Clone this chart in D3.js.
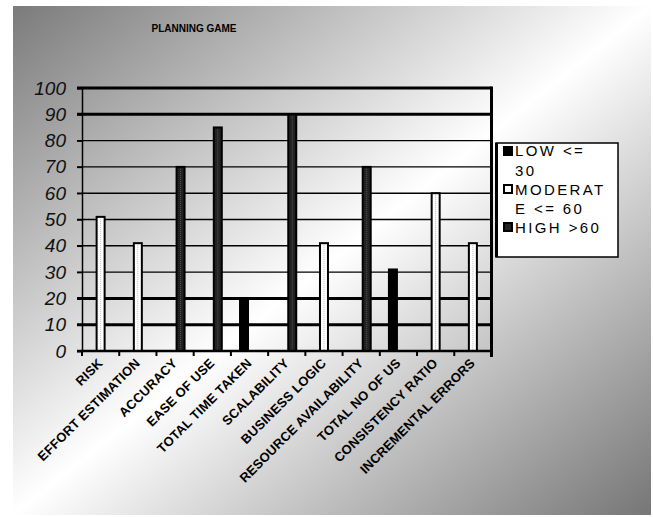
<!DOCTYPE html>
<html>
<head>
<meta charset="utf-8">
<script src="https://cdn.jsdelivr.net/npm/d3@7"></script>
<style>
  body { margin: 0; background: #fff; }
  svg { display: block; font-family: "Liberation Sans", Arial, sans-serif; }
</style>
</head>
<body>
<svg id="chart" width="653" height="517"></svg>
<script>
// chart data
const categories = [
  "RISK", "EFFORT ESTIMATION", "ACCURACY", "EASE OF USE", "TOTAL TIME TAKEN",
  "SCALABILITY", "BUSINESS LOGIC", "RESOURCE AVAILABILITY", "TOTAL NO OF US",
  "CONSISTENCY RATIO", "INCREMENTAL ERRORS"
];
const seriesNames = ["LOW", "MODERATE", "HIGH"];
const lowValues      = [0, 0, 0, 0, 20, 0, 0, 0, 31, 0, 0];
const moderateValues = [51, 41, 0, 0, 0, 0, 41, 0, 0, 60, 41];
const highValues     = [0, 0, 70, 85, 0, 90, 0, 70, 0, 0, 0];
const yTicks = [0, 10, 20, 30, 40, 50, 60, 70, 80, 90, 100];
const thickGrid = [10, 20, 90, 100];
const legendLines = [["LOW <=", "30"], ["MODERAT", "E <= 60"], ["HIGH >60"]];

const svg = d3.select("#chart");

// background panel with diagonal gradient
const defs = svg.append("defs");
const grad = defs.append("linearGradient")
  .attr("id", "bg").attr("x1", 0).attr("y1", 0).attr("x2", 1).attr("y2", 1);
grad.append("stop").attr("offset", "0%").attr("stop-color", "#7b7b7b");
grad.append("stop").attr("offset", "50%").attr("stop-color", "#ffffff");
grad.append("stop").attr("offset", "100%").attr("stop-color", "#767676");

svg.append("rect")
  .attr("x", 13).attr("y", 6).attr("width", 638).attr("height", 509)
  .attr("fill", "url(#bg)");

// title
svg.append("text")
  .attr("x", 194).attr("y", 32)
  .attr("text-anchor", "middle")
  .style("font-size", "10px").style("font-weight", "bold")
  .text("PLANNING GAME");

const plotLeft = 82, plotRight = 491.5, plotTop = 88, plotBottom = 351;

const x = d3.scaleBand().domain(categories).range([plotLeft, plotRight]).padding(0);
const y = d3.scaleLinear().domain([0, 100]).range([plotBottom, plotTop]);
const xSub = d3.scalePoint().domain(seriesNames).range([-5.5, 5.5]);

// gridlines
svg.append("g").selectAll("line")
  .data(yTicks.filter(d => d > 0))
  .join("line")
  .attr("x1", plotLeft - 5).attr("x2", plotRight)
  .attr("y1", d => y(d)).attr("y2", d => y(d))
  .attr("stroke", "#000")
  .attr("stroke-width", d => thickGrid.includes(d) ? 3 : 1.4);

// y axis
const yAxis = svg.append("g")
  .attr("transform", `translate(${plotLeft},0)`)
  .call(d3.axisLeft(y).tickValues(yTicks).tickSize(5).tickPadding(11));
yAxis.select(".domain").attr("stroke-width", 1.5);
yAxis.selectAll(".tick line").attr("stroke-width", 1.5);
yAxis.selectAll("text")
  .attr("fill", "#111")
  .style("font-size", "19px").style("font-style", "italic")
  .style("font-family", "'Liberation Sans', Arial, sans-serif");

// right border of plot
svg.append("line")
  .attr("x1", plotRight).attr("x2", plotRight)
  .attr("y1", y(100) - 1.5).attr("y2", plotBottom + 6)
  .attr("stroke", "#000").attr("stroke-width", 3);

// bars
const rows = categories.map((c, i) => [
  { cat: c, s: "LOW", v: lowValues[i] },
  { cat: c, s: "MODERATE", v: moderateValues[i] },
  { cat: c, s: "HIGH", v: highValues[i] }
]).flat().filter(d => d.v > 0);

const barW = 8;
const fills = { LOW: "#000", MODERATE: "#fff", HIGH: "#222" };
const inner = { LOW: null, MODERATE: "#bbb", HIGH: "#555" };

const bars = svg.append("g").selectAll("g")
  .data(rows)
  .join("g")
  .attr("transform", d => `translate(${x(d.cat) + x.bandwidth() / 2 + xSub(d.s)},0)`);

bars.append("rect")
  .attr("x", -barW / 2).attr("width", barW)
  .attr("y", d => y(d.v)).attr("height", d => plotBottom - y(d.v))
  .attr("fill", d => fills[d.s])
  .attr("stroke", "#000").attr("stroke-width", 2);

bars.filter(d => inner[d.s])
  .append("line")
  .attr("x1", 0).attr("x2", 0)
  .attr("y1", d => y(d.v) + 2).attr("y2", plotBottom - 1)
  .attr("stroke", d => inner[d.s]).attr("stroke-width", 1)
  .attr("stroke-dasharray", "1,1");

// x axis line and boundary ticks
svg.append("line")
  .attr("x1", plotLeft - 5).attr("x2", plotRight)
  .attr("y1", plotBottom).attr("y2", plotBottom)
  .attr("stroke", "#000").attr("stroke-width", 2.5);

svg.append("g").selectAll("line")
  .data(d3.range(categories.length + 1))
  .join("line")
  .attr("x1", i => plotLeft + i * x.step()).attr("x2", i => plotLeft + i * x.step())
  .attr("y1", plotBottom).attr("y2", plotBottom + 5)
  .attr("stroke", "#000").attr("stroke-width", 2);

// category labels
svg.append("g").selectAll("text")
  .data(categories)
  .join("text")
  .attr("transform", d => `translate(${x(d) + x.bandwidth() / 2 + 3},${plotBottom + 13}) rotate(-45)`)
  .attr("text-anchor", "end")
  .style("font-size", "13px").style("font-weight", "bold")
  .style("letter-spacing", "0.2px")
  .text(d => d);

// legend
const legend = svg.append("g");
legend.append("rect")
  .attr("x", 496).attr("y", 143).attr("width", 122).attr("height", 114)
  .attr("fill", "#fff").attr("stroke", "#000").attr("stroke-width", 1.5);
legend.append("line")
  .attr("x1", 496.5).attr("x2", 496.5).attr("y1", 143).attr("y2", 257)
  .attr("stroke", "#000").attr("stroke-width", 3);

const markerY = [147, 185, 223];
const lineY = [[156, 176], [195, 214], [233]];

seriesNames.forEach((s, i) => {
  legend.append("rect")
    .attr("x", 504).attr("y", markerY[i]).attr("width", 8).attr("height", 8)
    .attr("fill", fills[s]).attr("stroke", "#000").attr("stroke-width", 2);
  legendLines[i].forEach((t, j) => {
    legend.append("text")
      .attr("x", 515).attr("y", lineY[i][j])
      .style("font-size", "15px").style("letter-spacing", "2.4px")
      .text(t);
  });
});
</script>
</body>
</html>
